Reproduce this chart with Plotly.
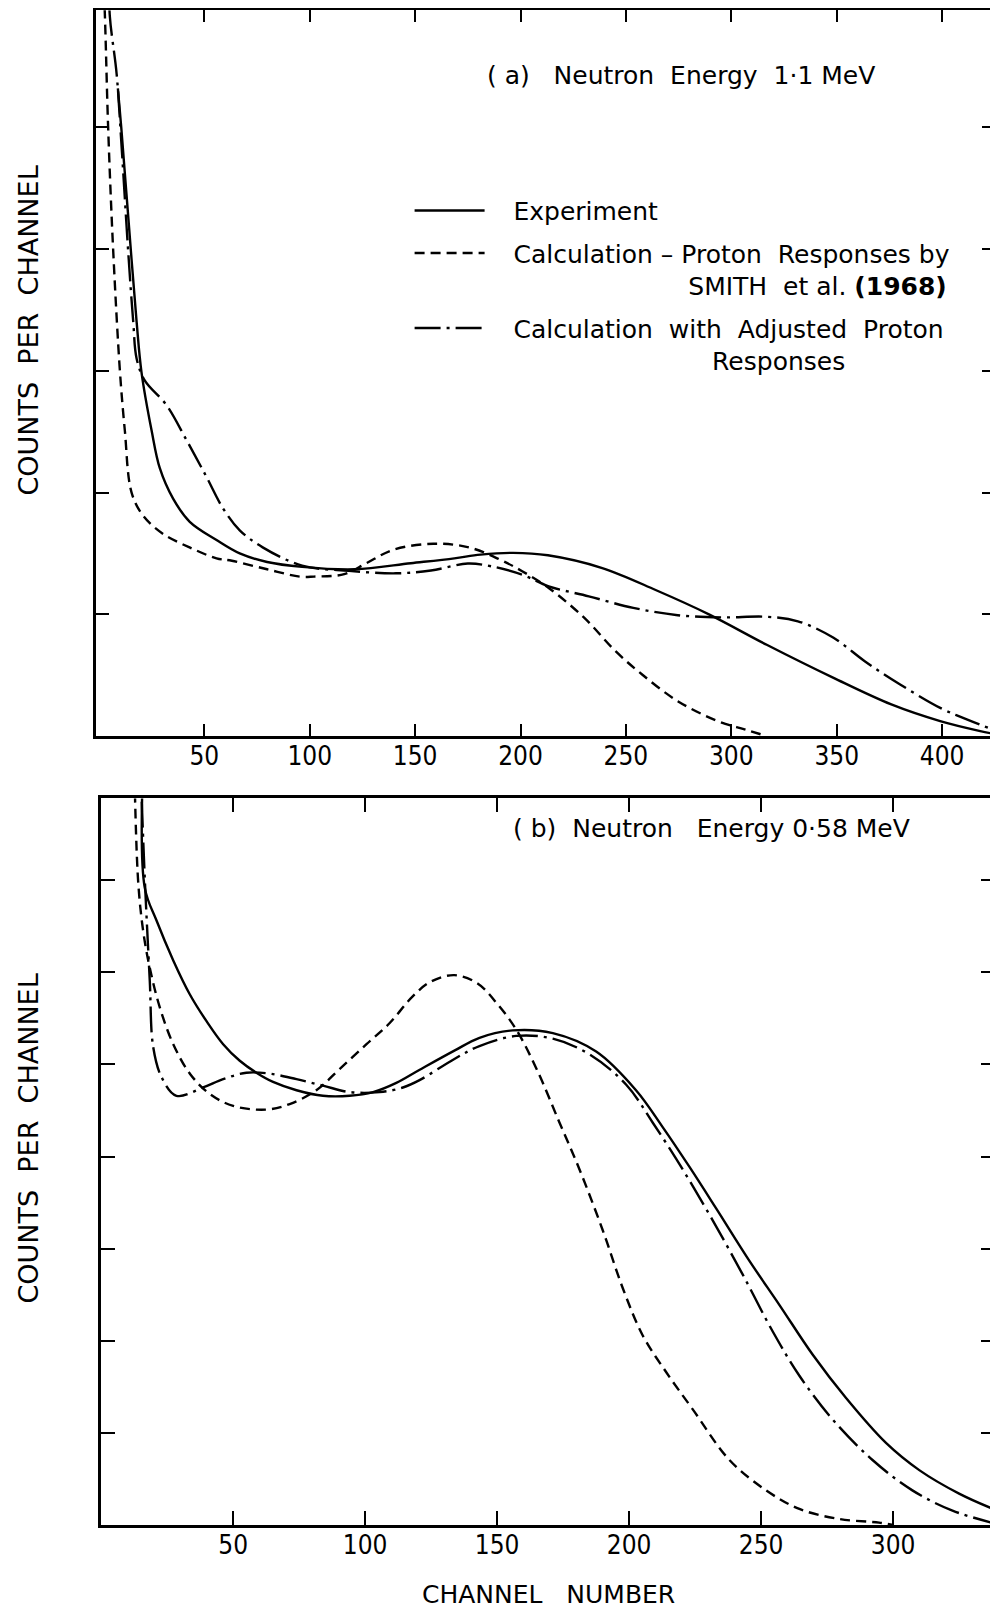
import plotly.graph_objects as go

# ---------------- data ----------------
# Panel (a): Neutron energy 1.1 MeV
exp_a_x = [9.0, 10.6, 13.9, 17.9, 20.2, 25.0, 28.9, 35.2, 43.1, 55.8, 66.8, 79.8, 96.4,
           121.4, 148.0, 168.6, 181.0, 196.5, 213.0, 238.8, 264.1, 289.4, 316.8,
           348.5, 375.9, 399.1, 418.1, 426.0]
exp_a_y = [5.32, 5.00, 4.27, 3.40, 2.99, 2.51, 2.20, 1.95, 1.76, 1.61, 1.50, 1.43, 1.39,
           1.37, 1.42, 1.46, 1.49, 1.505, 1.485, 1.38, 1.20, 1.00, 0.75,
           0.478, 0.26, 0.123, 0.041, 0.014]

smith_a_x = [1.5, 2.8, 4.4, 6.8, 10.0, 12.3, 15.5, 21.0, 30.5, 43.0, 55.8, 63.1, 79.8,
             95.3, 102.0, 116.4, 126.9, 139.6, 158.6, 175.5, 190.2, 200.8, 213.4, 230.3,
             245.1, 257.7, 274.6, 293.6, 306.3, 316.8]
smith_a_y = [6.5, 5.94, 4.99, 3.98, 2.99, 2.51, 2.00, 1.81, 1.66, 1.55, 1.46, 1.44, 1.37,
             1.31, 1.31, 1.33, 1.42, 1.53, 1.58, 1.55, 1.45, 1.354, 1.217, 0.97,
             0.697, 0.506, 0.287, 0.123, 0.055, 0.0]

adj_a_x = [4.6, 5.2, 8.4, 10.7, 13.9, 16.3, 17.9, 21.8, 32.0, 41.6, 51.0, 58.9, 66.8, 77.7,
           96.4, 118.6, 140.9, 157.5, 175.0, 186.0, 200.8, 213.4, 232.4, 253.5, 274.6,
           295.7, 316.8, 331.6, 348.5, 363.3, 380.1, 399.1, 411.7, 426.0]
adj_a_y = [6.3, 5.91, 5.44, 4.86, 3.98, 3.40, 3.10, 2.92, 2.72, 2.43, 2.13, 1.87, 1.69, 1.55,
           1.40, 1.357, 1.337, 1.36, 1.417, 1.395, 1.326, 1.23, 1.148, 1.053, 0.993,
           0.975, 0.98, 0.943, 0.807, 0.615, 0.424, 0.232, 0.137, 0.041]

# Panel (b): Neutron energy 0.58 MeV
exp_b_x = [15.9, 16.5, 21.0, 27.3, 33.6, 39.9, 46.2, 52.5, 58.8, 65.1, 74.0, 84.0, 94.1,
           103.0, 111.8, 120.5, 133.8, 143.3, 155.9, 171.1, 187.5, 202.6, 212.7, 222.8,
           232.9, 245.5, 256.9, 269.5, 282.1, 297.3, 309.9, 325.0, 339.4]
exp_b_y = [8.3, 6.92, 6.56, 6.13, 5.76, 5.47, 5.22, 5.04, 4.91, 4.81, 4.72, 4.66, 4.66,
           4.70, 4.80, 4.94, 5.15, 5.29, 5.37, 5.34, 5.14, 4.72, 4.32, 3.89,
           3.44, 2.87, 2.39, 1.85, 1.38, 0.89, 0.595, 0.34, 0.155]

smith_b_x = [12.5, 14.0, 15.9, 18.4, 22.2, 27.3, 33.6, 41.1, 50.0, 62.6, 71.4, 81.5, 90.3,
             100.5, 109.3, 118.0, 124.9, 133.8, 142.6, 150.0, 157.2, 164.8, 173.6, 181.2,
             190.0, 197.6, 205.1, 214.0, 224.1, 238.0, 251.9, 264.5, 279.6, 294.7, 300.0]
smith_b_y = [8.3, 6.99, 6.45, 6.05, 5.62, 5.22, 4.90, 4.68, 4.55, 4.51, 4.57, 4.72, 4.95,
             5.22, 5.45, 5.74, 5.90, 5.97, 5.88, 5.66, 5.38, 4.96, 4.37, 3.86,
             3.20, 2.57, 2.06, 1.66, 1.255, 0.705, 0.375, 0.173, 0.064, 0.025, 0.0]

adj_b_x = [14.8, 16.5, 18.4, 19.7, 22.9, 28.5, 38.6, 46.2, 55.0, 63.9, 74.0, 84.0, 94.1,
           105.5, 114.3, 120.6, 133.8, 143.3, 157.2, 171.1, 185.0, 198.9, 208.9, 220.3,
           231.6, 243.0, 254.4, 264.5, 277.1, 292.2, 307.3, 322.5, 339.4]
adj_b_y = [8.3, 7.03, 5.91, 5.19, 4.86, 4.66, 4.75, 4.84, 4.91, 4.90, 4.84, 4.77, 4.70,
           4.70, 4.75, 4.83, 5.06, 5.20, 5.31, 5.28, 5.11, 4.78, 4.37, 3.86,
           3.31, 2.72, 2.10, 1.62, 1.145, 0.705, 0.375, 0.155, 0.01]

ticks_a = [50, 100, 150, 200, 250, 300, 350, 400]
ticks_b = [50, 100, 150, 200, 250, 300]
yticks_a = [1, 2, 3, 4, 5]
yticks_b = [1, 2, 3, 4, 5, 6, 7]

NB = "\u00a0"
names = [NB * 3 + "Experiment",
         NB * 3 + "Calculation – Proton  Responses by<br>" + NB * 25 + "SMITH" + NB + " et al. <b>(1968)</b>",
         NB * 3 + "Calculation  with  Adjusted  Proton<br>" + NB * 28 + "Responses"]

# ---------------- layout helpers ----------------
# the page body has an 8px margin, so the figure is offset by 8px
OFF = 8
W, H = 998 - OFF, 1612 - OFF
def fx(p):
    return (p - OFF) / W
def fy(p):
    return 1 - (p - OFF) / H

FONT = "DejaVu Sans"
TICKFONT = "Liberation Sans Narrow, DejaVu Sans Condensed, Liberation Sans, sans-serif"
LW = 2.4
DASH = "10px,6px"
DASHDOT = "26px,6px,3px,6px"

fig = go.Figure()
styles = [dict(dash="solid"), dict(dash=DASH), dict(dash=DASHDOT)]
series_a = [(exp_a_x, exp_a_y), (smith_a_x, smith_a_y), (adj_a_x, adj_a_y)]
series_b = [(exp_b_x, exp_b_y), (smith_b_x, smith_b_y), (adj_b_x, adj_b_y)]
for i, (xs, ys) in enumerate(series_a):
    fig.add_trace(go.Scatter(x=xs, y=ys, mode="lines", name=names[i], legendgroup=f"g{i}",
                             line=dict(color="black", width=LW, shape="spline", smoothing=1.0, **styles[i]),
                             xaxis="x", yaxis="y", showlegend=True, hoverinfo="skip"))
for i, (xs, ys) in enumerate(series_b):
    fig.add_trace(go.Scatter(x=xs, y=ys, mode="lines", name=names[i], legendgroup=f"g{i}",
                             line=dict(color="black", width=LW, shape="spline", smoothing=1.0, **styles[i]),
                             xaxis="x2", yaxis="y2", showlegend=False, hoverinfo="skip"))

axis_common = dict(showline=True, linecolor="black", linewidth=2.5, mirror="ticks",
                   ticks="inside", tickwidth=2, tickcolor="black", showgrid=False,
                   zeroline=False, fixedrange=True)

fig.update_layout(
    width=W, height=H,
    margin=dict(l=0, r=0, t=0, b=0),
    paper_bgcolor="white", plot_bgcolor="white",
    font=dict(family=FONT, color="black"),
    xaxis=dict(domain=[fx(96.4), fx(996)], range=[-1.23, 425.1], tickvals=ticks_a,
               ticklen=12, tickfont=dict(family=TICKFONT, size=26), ticklabelstandoff=-5,
               anchor="y", **axis_common),
    yaxis=dict(domain=[fy(735), fy(8.2)], range=[0, 5.962], tickvals=yticks_a,
               ticklen=13, showticklabels=False, anchor="x", **axis_common),
    xaxis2=dict(domain=[fx(101.5), fx(996)], range=[0.08, 338.6], tickvals=ticks_b,
                ticklen=14, tickfont=dict(family=TICKFONT, size=26), ticklabelstandoff=-5,
                anchor="y2", **axis_common),
    yaxis2=dict(domain=[fy(1524.8), fy(797.4)], range=[0, 7.889], tickvals=yticks_b,
                ticklen=14, showticklabels=False, anchor="x2", **axis_common),
    showlegend=True,
    legend=dict(x=fx(410), y=fy(186), xanchor="left", yanchor="top",
                font=dict(family=FONT, size=25, color="black"), itemwidth=70,
                valign="top", tracegroupgap=7, bgcolor="rgba(0,0,0,0)",
                itemclick=False, itemdoubleclick=False),
)

def ann_font(size):
    return dict(family=FONT, size=size, color="black")

ann = dict(showarrow=False, xref="paper", yref="paper", xanchor="center", yanchor="middle")
fig.add_annotation(text="( a)" + NB * 3 + "Neutron" + NB + " Energy" + NB + " 1·1 MeV",
                   x=fx(682), y=fy(74), font=ann_font(25), **ann)
fig.add_annotation(text="( b)" + NB + " Neutron" + NB * 2 + " Energy 0·58 MeV",
                   x=fx(712), y=fy(828), font=ann_font(25), **ann)
fig.add_annotation(text="COUNTS" + NB + " PER" + NB + " CHANNEL", x=fx(29), y=fy(329),
                   textangle=-90, font=ann_font(27), **ann)
fig.add_annotation(text="COUNTS" + NB + " PER" + NB + " CHANNEL", x=fx(29), y=fy(1138),
                   textangle=-90, font=ann_font(27), **ann)
fig.add_annotation(text="CHANNEL" + NB * 2 + " NUMBER", x=fx(549), y=fy(1594),
                   font=ann_font(25), **ann)

fig.write_html("out.html", config={"displayModeBar": False})
